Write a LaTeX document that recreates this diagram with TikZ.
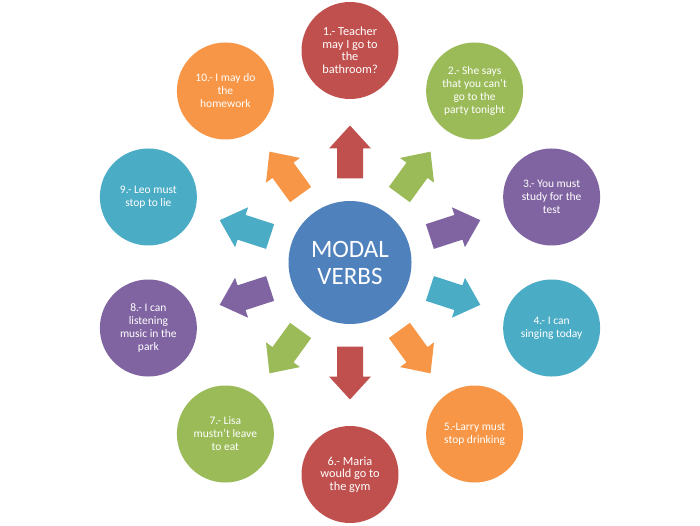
\documentclass[tikz,border=0pt]{standalone}
\usepackage{fontspec}
\setmainfont{Carlito}
\definecolor{cred}{HTML}{C0504D}
\definecolor{cgreen}{HTML}{9BBB59}
\definecolor{cpurple}{HTML}{8064A2}
\definecolor{cteal}{HTML}{4BACC6}
\definecolor{corange}{HTML}{F79646}
\definecolor{cblue}{HTML}{4F81BD}
\begin{document}
\begin{tikzpicture}[x=1pt,y=1pt,
  bubble/.style={circle, minimum size=97pt, inner sep=0pt, text=white, align=center,
    font=\fontsize{11.5}{13}\selectfont},
  bigtext/.style={font=\fontsize{12.3}{12.5}\selectfont},
  hub/.style={circle, fill=cblue, minimum size=123pt, inner sep=0pt, text=white, align=center,
    font=\fontsize{25}{27}\selectfont},
  blockarrow/.style={draw=none}]
\useasboundingbox[fill=white] (0,0) rectangle (700,525);
\coordinate (c) at (350,262.5);
\node[hub] (hub) at (c) {MODAL\\VERBS};
\foreach \ang/\col in {90/cred,54/cgreen,18/cpurple,-18/cteal,-54/corange,-90/cred,-126/cgreen,-162/cpurple,162/cteal,126/corange}{
  \fill[blockarrow, fill=\col, shift={(c)}, rotate=\ang]
    (84,-13) -- (114,-13) -- (114,-21) -- (137,0) -- (114,21) -- (114,13) -- (84,13) -- cycle;
}
\node[bubble, bigtext, fill=cred] (n1) at ([shift={(90:212)}]c) {1.- Teacher\\may I go to\\the\\bathroom?};
\node[bubble, fill=cgreen] (n2) at ([shift={(54:212)}]c) {2.- She says\\that you can't\\go to the\\party tonight};
\node[bubble, fill=cpurple] (n3) at ([shift={(18:212)}]c) {3.- You must\\study for the\\test};
\node[bubble, fill=cteal] (n4) at ([shift={(-18:212)}]c) {4.- I can\\singing today};
\node[bubble, fill=corange] (n5) at ([shift={(-54:212)}]c) {5.-Larry must\\stop drinking};
\node[bubble, bigtext, fill=cred] (n6) at ([shift={(-90:212)}]c) {6.- Maria\\would go to\\the gym};
\node[bubble, fill=cgreen] (n7) at ([shift={(-126:212)}]c) {7.- Lisa\\mustn't leave\\to eat};
\node[bubble, fill=cpurple] (n8) at ([shift={(-162:212)}]c) {8.- I can\\listening\\music in the\\park};
\node[bubble, fill=cteal] (n9) at ([shift={(162:212)}]c) {9.- Leo must\\stop to lie};
\node[bubble, fill=corange] (n10) at ([shift={(126:212)}]c) {10.- I may do\\the\\homework};
\end{tikzpicture}
\end{document}
